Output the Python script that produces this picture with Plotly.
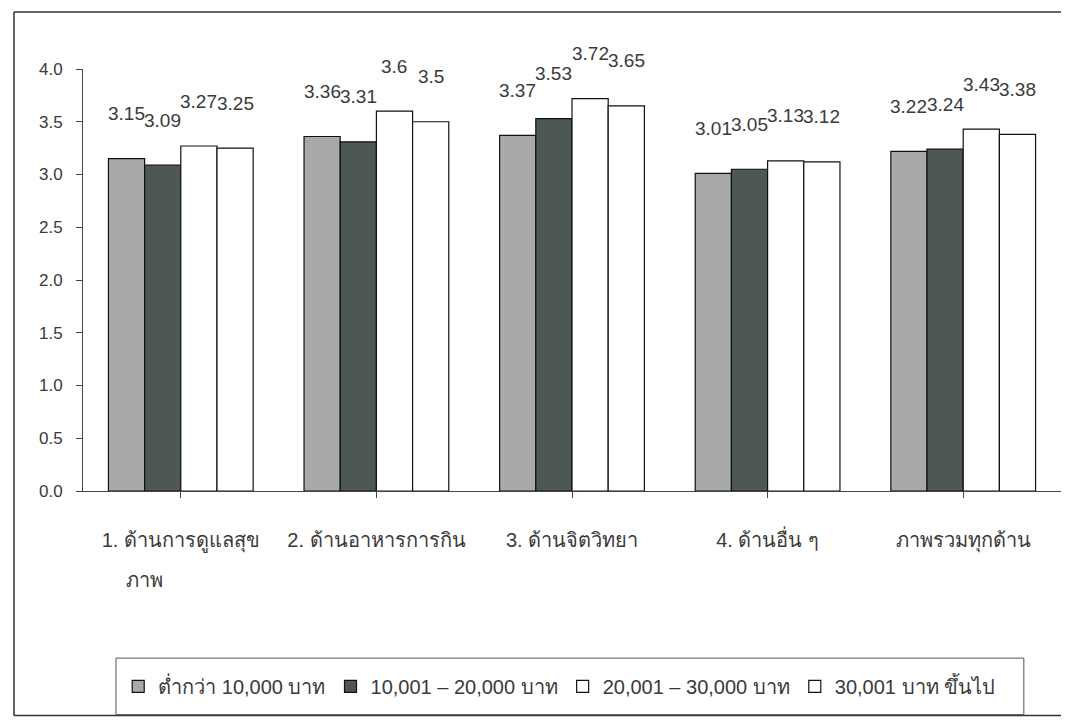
import plotly.graph_objects as go

categories = ["1. ด้านการดูแลสุขภาพ", "2. ด้านอาหารการกิน", "3. ด้านจิตวิทยา", "4. ด้านอื่น ๆ", "ภาพรวมทุกด้าน"]
tick_labels = ["1. ด้านการดูแลสุข<br>ภาพ", "2. ด้านอาหารการกิน", "3. ด้านจิตวิทยา", "4. ด้านอื่น ๆ", "ภาพรวมทุกด้าน"]
series_names = ["ต่ำกว่า 10,000 บาท", "10,001 – 20,000 บาท", "20,001 – 30,000 บาท", "30,001 บาท ขึ้นไป"]
s1 = [3.15, 3.36, 3.37, 3.01, 3.22]
s2 = [3.09, 3.31, 3.53, 3.05, 3.24]
s3 = [3.27, 3.6, 3.72, 3.13, 3.43]
s4 = [3.25, 3.5, 3.65, 3.12, 3.38]
y_ticks = [0, 0.5, 1.0, 1.5, 2.0, 2.5, 3.0, 3.5, 4.0]

series = [s1, s2, s3, s4]
colors = ["#a8aaa8", "#4e5853", "#ffffff", "#ffffff"]
FONT = "Liberation Sans, Arial, DejaVu Sans, sans-serif"
TXT = "#3a3a3a"

fig = go.Figure()
for name, vals, col in zip(series_names, series, colors):
    fig.add_trace(go.Bar(
        x=list(range(len(categories))), y=vals, name=name,
        marker=dict(color=col, line=dict(color="#111111", width=1.2)),
    ))

bargap = 0.26
bw = (1 - bargap) / len(series)
annotations = []
for j, vals in enumerate(series):
    for i, v in enumerate(vals):
        annotations.append(dict(
            x=i + (j - (len(series) - 1) / 2) * bw, y=v, xref="x", yref="y",
            text=f"{v:g}", showarrow=False, yshift=45, yanchor="middle",
            font=dict(size=19, color=TXT, family=FONT),
        ))

# tick label first lines on the axis, wrapped remainder as separate text lines
first_lines = []
for i, lab in enumerate(tick_labels):
    parts = lab.split("<br>")
    first_lines.append(parts[0])
    for k, rest in enumerate(parts[1:]):
        annotations.append(dict(
            x=i, y=-0.211 - 0.095 * k, xref="x", yref="paper", xshift=-36,
            yanchor="middle", text=rest, showarrow=False,
            font=dict(size=20, color=TXT, family=FONT),
        ))

frame = dict(color="#333333", width=1.5)
fig.update_layout(
    width=1053, height=709,
    margin=dict(l=75, r=0, t=61, b=226, autoexpand=False),
    paper_bgcolor="white", plot_bgcolor="white",
    barmode="group", bargap=bargap, bargroupgap=0,
    font=dict(family=FONT, size=16, color=TXT),
    showlegend=True,
    legend=dict(
        orientation="h", x=0.036, xanchor="left", y=-0.463, yanchor="middle",
        borderwidth=0, bgcolor="rgba(0,0,0,0)",
        font=dict(size=20, color=TXT, family=FONT),
        itemwidth=30, traceorder="normal",
    ),
    annotations=annotations,
    shapes=[
        dict(type="line", xref="paper", yref="paper", x0=-0.0706, x1=-0.0706, y0=-0.532, y1=1.135, line=frame),
        dict(type="line", xref="paper", yref="paper", x0=-0.0706, x1=1.0, y0=1.135, y1=1.135, line=frame),
        dict(type="line", xref="paper", yref="paper", x0=-0.0706, x1=1.0, y0=-0.532, y1=-0.532, line=frame),
        dict(type="rect", xref="paper", yref="paper",
             x0=0.0337, x1=0.962, y0=-0.53, y1=-0.396,
             line=dict(color="#555555", width=1)),
    ],
)
fig.update_xaxes(
    tickmode="array", tickvals=list(range(len(categories))), ticktext=first_lines,
    range=[-0.5, len(categories) - 0.5],
    showline=True, linecolor="#444444", linewidth=1,
    ticks="outside", tickson="boundaries", ticklen=6, tickcolor="#444444",
    ticklabelstandoff=25, tickfont=dict(size=20, color=TXT, family=FONT),
    showgrid=False,
)
fig.update_yaxes(
    range=[0, 4.0], tickvals=y_ticks, tickformat=".1f",
    showline=True, linecolor="#444444", linewidth=1,
    ticks="outside", ticklen=6, tickcolor="#444444",
    ticklabelstandoff=10, tickfont=dict(size=17, color=TXT, family=FONT),
    showgrid=False, zeroline=False,
)

fig.write_html("out.html")
